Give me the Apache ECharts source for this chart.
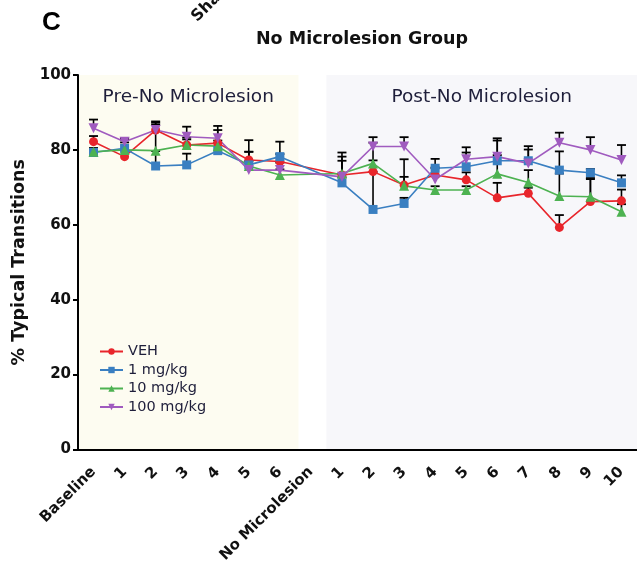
<!DOCTYPE html>
<html>
<head>
<meta charset="utf-8">
<script src="https://cdn.jsdelivr.net/npm/echarts@6/dist/echarts.min.js"></script>
<style>html,body{margin:0;padding:0;background:#fff;}#c{width:637px;height:575px;}</style>
</head>
<body>
<div id="c"></div>
<script>
const categories = ['Baseline','1','2','3','4','5','6','No Microlesion','1','2','3','4','5','6','7','8','9','10'];
const yTicks = [0,20,40,60,80,100];
const seriesNames = ['VEH','1 mg/kg','10 mg/kg','100 mg/kg'];
const veh      = [82.2,78.2,85.3,81.3,81.8,77.3,76.9,null,73.3,74.2,70.6,73.3,72.0,67.2,68.4,59.3,66.2,66.4];
const mg1      = [79.3,80.4,75.7,76.0,79.8,76.0,78.2,null,71.2,64.1,65.7,75.1,75.5,77.1,77.1,74.6,73.9,71.2];
const mg10     = [79.5,80.0,79.8,81.3,81.0,75.7,73.3,null,73.7,76.4,70.4,69.3,69.3,73.6,71.3,67.7,67.5,63.5];
const mg100    = [85.8,82.2,85.3,83.5,83.1,74.6,74.6,null,72.8,80.9,80.9,72.1,77.5,78.2,76.4,81.9,80.0,77.3];
const vehErr   = [1.5,4.5,2.3,2.0,3.5,2.2,2.0,null,6.0,3.0,6.9,2.0,2.0,4.0,1.5,3.3,6.0,3.0];
const mg1Err   = [1.0,2.5,4.0,3.0,2.0,1.0,4.0,null,1.5,10.0,1.5,2.5,3.8,5.4,3.0,5.0,1.0,2.0];
const mg10Err  = [1.0,2.0,7.0,1.5,1.5,3.8,1.5,null,4.5,5.5,2.4,1.0,1.0,5.0,3.3,6.0,5.0,2.0];
const mg100Err = [2.3,1.0,2.0,2.7,3.3,8.0,2.0,null,4.3,2.5,2.5,3.0,3.2,4.9,4.6,2.7,3.4,4.0];
const regionNames = ['Pre-No Microlesion','Post-No Microlesion'];

const colors = ['#e8252b','#3a7fc1','#4db251','#a05bbf'];
const symbols = ['circle','rect','triangle','triangle'];
const rotates = [0,0,0,180];
const values = [veh, mg1, mg10, mg100];
const errs = [vehErr, mg1Err, mg10Err, mg100Err];
const FONT = '"DejaVu Sans", sans-serif';
const AR = '"Liberation Sans", Arial, sans-serif';

const chart = echarts.init(document.getElementById('c'), null, {renderer:'canvas'});

const series = [];
// background bands via hidden value axis
series.push({
  type:'line', xAxisIndex:1, yAxisIndex:0, data:[], silent:true, z:0,
  markArea:{
    silent:true,
    label:{show:true, position:'insideTop', distance:13, fontSize:18.5, fontFamily:FONT, color:'#1e1e3a'},
    data:[
      [{name:regionNames[0], xAxis:-0.5, yAxis:0, itemStyle:{color:'#fdfcf1'}},{xAxis:6.6, yAxis:100}],
      [{name:regionNames[1], xAxis:7.5, yAxis:0, itemStyle:{color:'#f7f7fa'}},{xAxis:17.5, yAxis:100}]
    ]
  }
});
// error bars
values.forEach((vals, si) => {
  const data = vals.map((v,i) => v==null ? [i,null,null] : [i, v, v + errs[si][i]]);
  series.push({
    type:'custom', xAxisIndex:0, yAxisIndex:0, z:2, silent:true,
    data:data,
    renderItem:function(params, api){
      const v = api.value(1);
      if (v == null || isNaN(v)) return null;
      const p0 = api.coord([api.value(0), v]);
      const p1 = api.coord([api.value(0), api.value(2)]);
      return {type:'group', children:[
        {type:'line', shape:{x1:p0[0],y1:p0[1],x2:p1[0],y2:p1[1]}, style:{stroke:'#000', lineWidth:1.6}},
        {type:'line', shape:{x1:p1[0]-4.5,y1:p1[1],x2:p1[0]+4.5,y2:p1[1]}, style:{stroke:'#000', lineWidth:1.8}}
      ]};
    }
  });
});
// lines
values.forEach((vals, si) => {
  series.push({
    name:seriesNames[si], type:'line', xAxisIndex:0, yAxisIndex:0, z:3,
    data:vals, connectNulls:true,
    symbol:symbols[si], symbolSize: si===1 ? 9 : (si===0 ? 9 : 10), symbolRotate:rotates[si],
    lineStyle:{color:colors[si], width:1.6},
    itemStyle:{color:colors[si]},
    emphasis:{disabled:true}
  });
});

chart.setOption({
  animation:false,
  backgroundColor:'#ffffff',
  textStyle:{fontFamily:FONT},
  grid:{left:78, top:75, width:566, height:374.5, containLabel:false},
  legend:{
    data:seriesNames, orient:'vertical', left:94, top:339, itemGap:3.5,
    itemWidth:23, itemHeight:8,
    textStyle:{fontSize:14.5, fontFamily:FONT, color:'#1e1e3a'}
  },
  xAxis:[{
    type:'category', data:categories, boundaryGap:true, z:10,
    axisLine:{onZero:false, lineStyle:{color:'#000', width:2}},
    axisTick:{alignWithLabel:true, length:7, lineStyle:{color:'#000', width:2}},
    axisLabel:{rotate:45, fontSize:15, fontWeight:'bold', color:'#111', fontFamily:FONT, margin:20, interval:0},
    splitLine:{show:false}
  },{
    type:'value', min:-0.5, max:17.5, show:false
  }],
  yAxis:[{
    type:'value', min:0, max:100, interval:20, z:10,
    name:'% Typical Transitions', nameLocation:'middle', nameGap:49,
    nameTextStyle:{fontSize:17.5, fontWeight:'bold', color:'#111', fontFamily:FONT},
    axisLine:{show:true, onZero:false, lineStyle:{color:'#000', width:2}},
    axisTick:{show:true, length:5, lineStyle:{color:'#000', width:2}},
    axisLabel:{fontSize:15, fontWeight:'bold', color:'#111', fontFamily:FONT, margin:7,
      formatter:function(v){ return yTicks.indexOf(v) >= 0 ? String(v) : ''; }},
    splitLine:{show:false}
  }],
  graphic:[
    {type:'text', left:42, top:10, style:{text:'C', fontSize:26, fontWeight:'bold', fill:'#000', fontFamily:AR}},
    {type:'text', x:362, y:39, style:{text:'No Microlesion Group', fontSize:17.5, fontWeight:'bold', fill:'#111', fontFamily:FONT, align:'center', verticalAlign:'middle'}},
    {type:'text', x:200, y:25, rotation:Math.PI/4, style:{text:'Sham', fontSize:16, fontWeight:'bold', fill:'#111', fontFamily:FONT, align:'left', verticalAlign:'bottom'}}
  ],
  series:series
});
</script>
</body>
</html>
